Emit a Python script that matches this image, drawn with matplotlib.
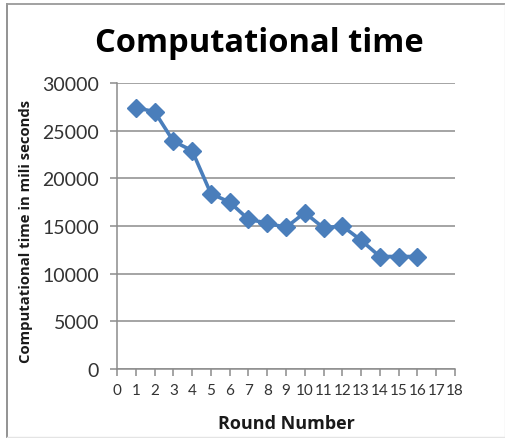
import matplotlib
matplotlib.use("Agg")
import matplotlib.pyplot as plt
from matplotlib.lines import Line2D

rounds = [1, 2, 3, 4, 5, 6, 7, 8, 9, 10, 11, 12, 13, 14, 15, 16]
comp_time = [27400, 27000, 23900, 22900, 18400, 17500, 15700, 15300, 14850,
             16400, 14800, 15000, 13500, 11800, 11800, 11800]
x_ticks = list(range(0, 19))
y_ticks = [0, 5000, 10000, 15000, 20000, 25000, 30000]

title = "Computational time"
xlabel = "Round Number"
ylabel = "Computational time in mili seconds"

plt.rcParams['font.family'] = ['Open Sans', 'DejaVu Sans']

W, H = 506, 439
fig = plt.figure(figsize=(W / 100, H / 100), dpi=100)
fig.patch.set_facecolor('white')

# outer frame
def fline(x0, y0, x1, y1, color, lw):
    fig.add_artist(Line2D([x0 / W, x1 / W], [1 - y0 / H, 1 - y1 / H],
                          transform=fig.transFigure, color=color, linewidth=lw))

fline(7.5, 5, 7.5, 439, '#8a8a8a', 1.3)
fline(7.5, 5, 506, 5, '#9a9a9a', 1.3)
fline(505, 5, 505, 439, '#e4e4e4', 1.0)
fline(7.5, 438, 506, 438, '#e4e4e4', 1.0)

ax = fig.add_axes([117 / W, 1 - 370 / H, (455 - 117) / W, (370 - 84) / H])
ax.plot(rounds, comp_time, color='#4A7EBB', linewidth=2.6, marker='D',
        markersize=9, markerfacecolor='#4A7EBB', markeredgecolor='#4A7EBB',
        clip_on=False, zorder=3)

ax.set_xlim(0, 18)
ax.set_ylim(0, 30000)
ax.set_xticks(x_ticks)
ax.set_xticklabels([str(t) for t in x_ticks])
ax.set_yticks(y_ticks)
ax.set_yticklabels([str(t) for t in y_ticks])

ax.grid(axis='y', color='#8c8c8c', linewidth=1.1)
ax.set_axisbelow(True)
for s in ['top', 'right']:
    ax.spines[s].set_visible(False)
for s in ['left', 'bottom']:
    ax.spines[s].set_color('#8c8c8c')
    ax.spines[s].set_linewidth(1.1)

ax.tick_params(axis='both', colors='#8c8c8c', labelcolor='#333333',
               labelsize=14, length=5, width=1.1)
ax.tick_params(axis='x', pad=5)
ax.tick_params(axis='y', pad=8)
for lbl in ax.get_yticklabels():
    lbl.set_fontfamily(['Lato', 'DejaVu Sans'])
for lbl in ax.get_xticklabels():
    lbl.set_fontfamily(['Lato', 'DejaVu Sans'])
    lbl.set_fontsize(11)

fig.text(259 / W, 1 - 44 / H, title, ha='center', va='center',
         fontsize=23.5, fontweight='bold', color='black')
fig.text(286 / W, 1 - 424 / H, xlabel, ha='center', va='center',
         fontsize=13, fontweight='bold', color='#1a1a1a')
fig.text(26 / W, 1 - 231 / H, ylabel, ha='center', va='center',
         rotation=90, fontsize=10.7, fontweight='bold', color='#1a1a1a')

fig.savefig('out.png', dpi=100, facecolor='white')
